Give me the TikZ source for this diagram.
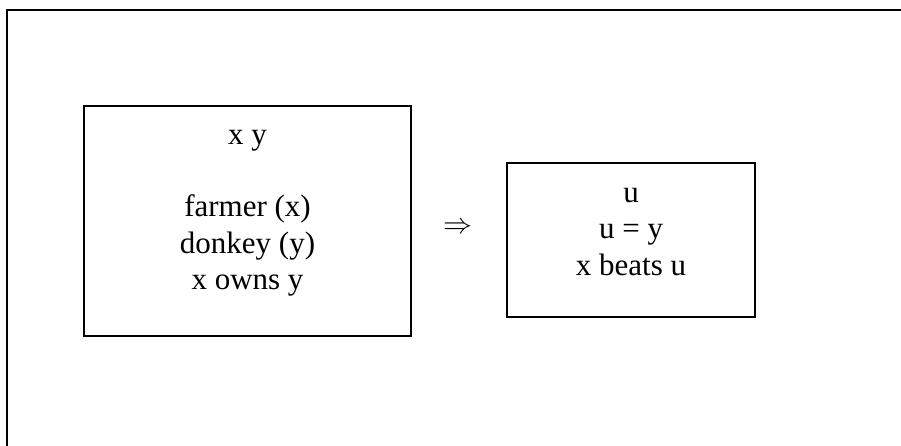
\documentclass[tikz,border=0pt]{standalone}
\usepackage{fontspec}
\setmainfont{Liberation Serif}
\begin{document}
\begin{tikzpicture}[x=1pt,y=-1pt,
  box/.style={draw=black, line width=1.8pt, inner sep=0pt},
  txt/.style={anchor=base, inner sep=0pt, font=\fontsize{31}{36}\selectfont},
  frameline/.style={draw=black, line width=2pt}]
\useasboundingbox (0,0) rectangle (901,446);
\coordinate (fa) at (7,446);
\coordinate (fb) at (7,10);
\coordinate (fc) at (901,10);
\draw[frameline] (fa) -- (fb) -- (fc);
\node[box, minimum width=327pt, minimum height=230pt] (left) at (247.5,221) {};
\node[box, minimum width=248pt, minimum height=154pt] (right) at (631,240) {};
\node[txt] (l1) at (247.5,145) {x y};
\node[txt] (l2) at (247.5,217) {farmer (x)};
\node[txt] (l3) at (247.5,253) {donkey (y)};
\node[txt] (l4) at (247.5,289) {x owns y};
\node[txt] (r1) at (631,203) {u};
\node[txt] (r2) at (631,239) {u = y};
\node[txt] (r3) at (631,275) {x beats u};
\node[inner sep=0pt] (arr) at (458,228) {\resizebox{29pt}{!}{$\Rightarrow$}};
\end{tikzpicture}
\end{document}
